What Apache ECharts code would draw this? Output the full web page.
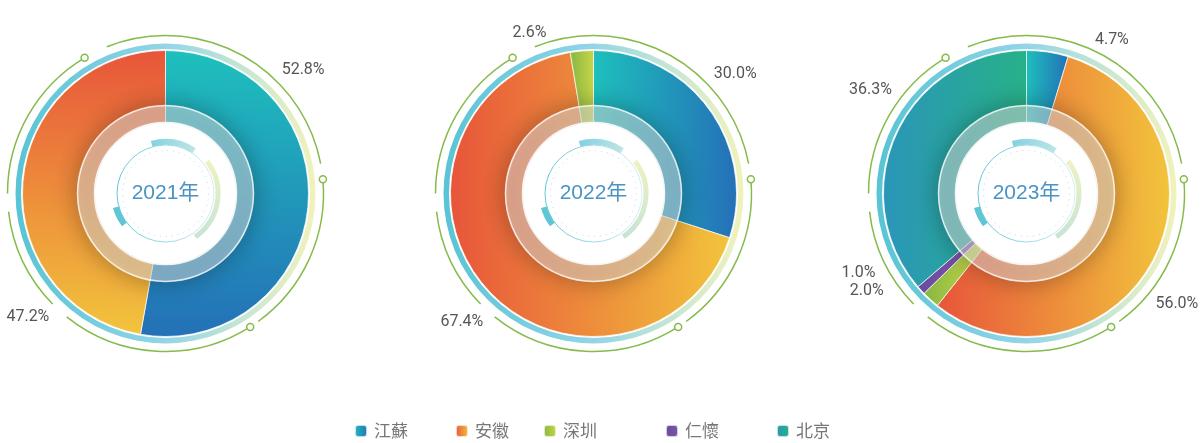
<!DOCTYPE html>
<html>
<head>
<meta charset="utf-8">
<title>地区占比</title>
<script src="https://cdn.jsdelivr.net/npm/echarts@6/dist/echarts.min.js"></script>
<style>
  html, body { margin: 0; padding: 0; background: #fff; }
  #main { width: 1203px; height: 443px; }
</style>
</head>
<body>
<div id="main"></div>
<script>
// 年份、地区、各年占比（%），缺失为 null
var years = ["2021年", "2022年", "2023年"];
var regions = ["江蘇", "安徽", "深圳", "仁懷", "北京"];
var share2021 = [52.8, 47.2, null, null, null];
var share2022 = [30.0, 67.4, 2.6, null, null];
var share2023 = [4.7, 56.0, 2.0, 1.0, 36.3];
var shares = [share2021, share2022, share2023];

// 各地区渐变色 [起, 止]
var regionColors = [
  ["#1ec0bd", "#2470b7"],
  ["#e8553a", "#f2c43c"],
  ["#86b740", "#c8d64a"],
  ["#6b4a9e", "#7b56aa"],
  ["#2a96b8", "#27b189"]
];

(function() {
  var myChart = echarts.init(document.getElementById("main"));

  // 布局
  var centers = [[165.5, 193.5], [593.5, 193.5], [1026.5, 193.5]];
  var gradDir = [[0, 0, 0, 1], [0, 0, 1, 0], [0, 0, 1, 0]];
  var labelStart = [143, 100, 76];
  var legendLeft = [354, 455, 543, 665, 776];
  var green = "#86bb4c";

  function grad(dir, c) {
    return new echarts.graphic.LinearGradient(dir[0], dir[1], dir[2], dir[3], [
      { offset: 0, color: c[0] },
      { offset: 1, color: c[1] }
    ]);
  }
  // 数学角度(逆时针) -> canvas 弧度
  function rad(a) {
    return -a * Math.PI / 180;
  }

  function pieData(k, style) {
    var out = [];
    shares[k].forEach(function(v, i) {
      if (v == null) return;
      out.push({ name: regions[i], value: v, itemStyle: style(i) });
    });
    return out;
  }

  // 装饰：内圈小弧、外圈绿色弧线和小圆点
  function decor(c) {
    return {
      type: "custom",
      coordinateSystem: "none",
      silent: true,
      z: 10,
      data: [0],
      renderItem: function() {
        var kids = [];
        function arc(r, a1, a2, lw, stroke) {
          kids.push({
            type: "arc",
            shape: { cx: c[0], cy: c[1], r: r, startAngle: rad(a1), endAngle: rad(a2), clockwise: true },
            style: { stroke: stroke, fill: "none", lineWidth: lw }
          });
        }
        function dot(r, a) {
          kids.push({
            type: "circle",
            shape: { cx: c[0] + r * Math.cos(a * Math.PI / 180), cy: c[1] - r * Math.sin(a * Math.PI / 180), r: 3.5 },
            style: { stroke: green, fill: "#fff", lineWidth: 1.5 }
          });
        }
        // 内圈
        kids.push({
          type: "circle",
          shape: { cx: c[0], cy: c[1], r: 43 },
          style: { stroke: "#a9dce8", fill: "none", lineWidth: 1, lineDash: [1, 5] }
        });
        kids.push({
          type: "circle",
          shape: { cx: c[0], cy: c[1], r: 48.5 },
          style: { stroke: grad([0, 0, 1, 0], ["#5ec6d6", "#d9eff1"]), fill: "none", lineWidth: 1 }
        });
        arc(51.5, 105.6, 56.3, 6, grad([0, 0, 1, 0], ["#7fd0e3", "#c2e6e4"]));
        arc(52.5, 37.8, -55.4, 5, grad([0, 0, 0, 1], ["#eef3c0", "#c6e4d6"]));
        arc(51.5, 217, 195.5, 6, "#5ec6d4");
        // 外圈
        arc(158, 111.8, 10.9, 1.5, green);
        arc(158, 5.2, -54.1, 1.5, green);
        arc(158, -57.6, -128.7, 1.5, green);
        arc(158, 224.4, 186.6, 1.5, green);
        arc(158, 180, 120.8, 1.5, green);
        dot(158, 120.8);
        dot(158, 5.2);
        dot(158, -57.6);
        return { type: "group", children: kids };
      }
    };
  }

  var series = [];
  years.forEach(function(year, k) {
    var c = centers[k];
    // 外环
    series.push({
      type: "pie",
      silent: true,
      center: c,
      radius: [144.5, 150],
      label: { show: false },
      data: [{
        name: "外环",
        value: 1,
        itemStyle: {
          color: new echarts.graphic.LinearGradient(0, 0, 1, 0, [
            { offset: 0, color: "#58c4d4" },
            { offset: 0.5, color: "#93d5e7" },
            { offset: 0.82, color: "#d2eace" },
            { offset: 1, color: "#f1f2bb" }
          ])
        }
      }]
    });
    // 主饼
    series.push({
      name: year,
      type: "pie",
      center: c,
      radius: [71, 143],
      startAngle: 90,
      clockwise: true,
      label: { show: false },
      labelLine: { show: false },
      emphasis: { scale: false },
      itemStyle: { borderColor: "rgba(255,255,255,0.7)", borderWidth: 1 },
      data: pieData(k, function(i) {
        return { color: grad(gradDir[k], regionColors[i]) };
      })
    });
    // 百分比标签
    series.push({
      type: "pie",
      silent: true,
      center: c,
      radius: [149, 150],
      startAngle: labelStart[k],
      clockwise: true,
      itemStyle: { color: "rgba(0,0,0,0)" },
      label: {
        show: true,
        position: "outside",
        overflow: "none",
        fontSize: 16,
        color: "#555",
        fontFamily: "Roboto",
        formatter: function(p) {
          return p.value.toFixed(1) + "%";
        }
      },
      labelLine: { show: false, length: 16, length2: 0 },
      data: pieData(k, function() { return {}; })
    });
    // 半透明内环
    series.push({
      type: "pie",
      silent: true,
      center: c,
      radius: [71, 88],
      label: { show: false },
      data: [{
        name: "内环",
        value: 1,
        itemStyle: {
          color: "rgba(255,255,255,0.45)",
          borderColor: "rgba(255,255,255,0.8)",
          borderWidth: 1.5,
          shadowBlur: 22,
          shadowColor: "rgba(0,0,0,0.6)"
        }
      }]
    });
    // 中心白圆 + 年份
    series.push({
      type: "pie",
      silent: true,
      center: c,
      radius: [0, 70.5],
      label: {
        show: true,
        position: "center",
        formatter: "{b}",
        fontSize: 21,
        color: "#4a93c4",
        fontFamily: "Liberation Sans, Noto Sans CJK SC"
      },
      labelLine: { show: false },
      data: [{ name: year, value: 1, itemStyle: { color: "#fff" } }]
    });
    series.push(decor(c));
  });

  var option = {
    animation: false,
    legend: regions.map(function(name, i) {
      return {
        left: legendLeft[i],
        top: 421,
        padding: 0,
        icon: "roundRect",
        itemWidth: 12,
        itemHeight: 12,
        data: [{ name: name, itemStyle: { color: grad([0, 0, 1, 0], regionColors[i]) } }],
        textStyle: {
          fontSize: 17,
          lineHeight: 20,
          color: "#777",
          fontFamily: "Noto Sans CJK SC",
          padding: [0, 0, 0, 2]
        }
      };
    }),
    series: series
  };

  myChart.setOption(option);
  window.addEventListener("resize", function() {
    myChart.resize();
  });
})();
</script>
</body>
</html>
